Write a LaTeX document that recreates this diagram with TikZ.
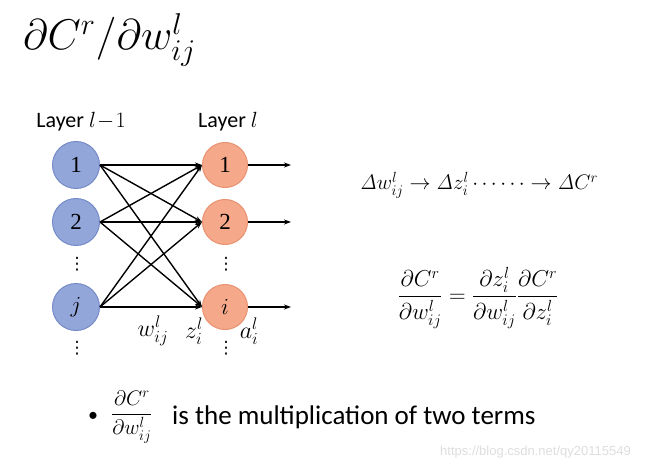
\RequirePackage{fix-cm}
\documentclass[tikz,border=0pt]{standalone}
\usepackage{amsmath}
\usepackage[no-math]{fontspec}
\setmainfont{Liberation Serif}
\newfontfamily\tms{Liberation Serif}
\newfontfamily\calib{Carlito}
\newfontfamily\wmfont{Liberation Sans}
\newfontfamily\dejavu{DejaVu Sans}
\usetikzlibrary{arrows.meta}
\definecolor{bluefill}{RGB}{146,166,218}
\definecolor{blueborder}{RGB}{118,140,200}
\definecolor{orangefill}{RGB}{245,168,138}
\definecolor{orangeborder}{RGB}{232,146,112}
\tikzset{
  lnode/.style={circle, draw=blueborder, fill=bluefill, line width=1pt, minimum size=47pt, inner sep=0pt, font=\tms\fontsize{23}{23}\selectfont},
  rnode/.style={circle, draw=orangeborder, fill=orangefill, line width=1pt, minimum size=45pt, inner sep=0pt, font=\tms\fontsize{23}{23}\selectfont},
  conn/.style={line width=1.4pt, -{Stealth[length=7pt,width=5pt]}},
  lbl/.style={font=\fontsize{24}{24}\selectfont},
  eqs/.style={font=\fontsize{21}{21}\selectfont},
  layer/.style={font=\calib\fontsize{22}{22}\selectfont},
  dotsn/.style={font=\dejavu\fontsize{17}{17}\selectfont, inner sep=0pt}
}
\begin{document}
\begin{tikzpicture}[x=1pt,y=-1pt]
\useasboundingbox (0,0) rectangle (650,465);
\fill[white] (0,0) rectangle (650,465);
% title
\node[anchor=base west, inner sep=0pt, font=\fontsize{43}{43}\selectfont] (title) at (23,50) {$\partial C^{r}/\partial w^{l}_{ij}$};
% layer labels
\node[layer] (lay1) at (81,122) {Layer $l\!-\!1$};
\node[layer] (lay2) at (228,122) {Layer $l$};
% nodes
\node[lnode] (l1) at (76,165) {1};
\node[lnode] (l2) at (76,222) {2};
\node[lnode] (lj) at (76,307) {$j$};
\node[rnode] (r1) at (225,165) {1};
\node[rnode] (r2) at (225,222) {2};
\node[rnode] (ri) at (225,307) {$i$};
% dots
\node[dotsn] (d1) at (77,264) {⋮};
\node[dotsn] (d2) at (77,348) {⋮};
\node[dotsn] (d3) at (226,264) {⋮};
\node[dotsn] (d4) at (226,348) {⋮};
% connections
\foreach \a in {l1,l2,lj} {
  \foreach \b in {r1,r2,ri} {
    \draw[conn] (\a.east) -- (\b.west);
  }
}
\coordinate (o1) at (291,165);
\coordinate (o2) at (291,222);
\coordinate (o3) at (291,307);
\draw[conn] (r1.east) -- (o1);
\draw[conn] (r2.east) -- (o2);
\draw[conn] (ri.east) -- (o3);
% labels
\node[lbl] (w) at (153,331) {$w^{l}_{ij}$};
\node[lbl] (z) at (194,331) {$z^{l}_{i}$};
\node[lbl] (a) at (249,331) {$a^{l}_{i}$};
% right formulas
\node[eqs] (chain) at (479,185) {$\mathit{\Delta} w^{l}_{ij}\rightarrow \mathit{\Delta} z^{l}_{i}\cdots\cdots\rightarrow \mathit{\Delta} C^{r}$};
\node[font=\fontsize{23}{23}\selectfont] (eq) at (478,298) {$\dfrac{\partial C^{r}}{\partial w^{l}_{ij}}=\dfrac{\partial z^{l}_{i}}{\partial w^{l}_{ij}}\dfrac{\partial C^{r}}{\partial z^{l}_{i}}$};
% bullet line
\node[anchor=west, inner sep=0pt, font=\calib\fontsize{20}{20}\selectfont] (bul) at (88,417) {\textbullet};
\node[anchor=west, inner sep=0pt, font=\fontsize{21}{21}\selectfont] (bfrac) at (111,417) {$\dfrac{\partial C^{r}}{\partial w^{l}_{ij}}$};
\node[anchor=west, inner sep=0pt, font=\calib\fontsize{27}{27}\selectfont] (btext) at (172,417) {is the multiplication of two terms};
% watermark
\node[anchor=base west, inner sep=0pt, text=black!13, font=\wmfont\fontsize{13}{13}\selectfont] (wm) at (440,455) {https://blog.csdn.net/qy20115549};
\end{tikzpicture}
\end{document}
